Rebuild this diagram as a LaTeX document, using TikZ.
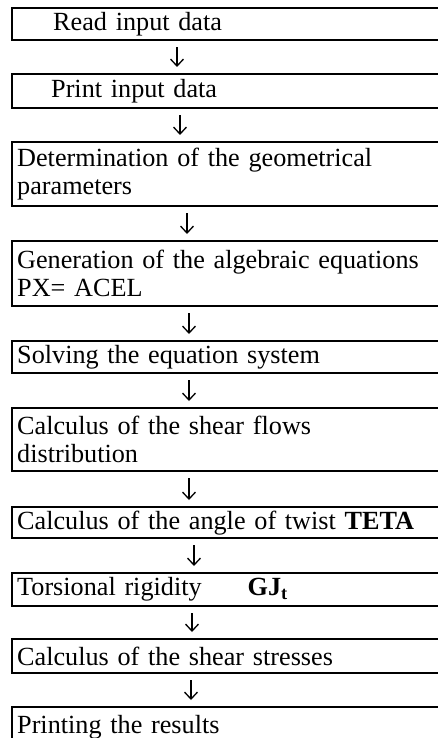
\documentclass[tikz,border=0pt]{standalone}
\usepackage{fontspec}
\setmainfont{Liberation Serif}
\usetikzlibrary{arrows.meta,positioning}

\begin{document}
\begin{tikzpicture}[
  x=1pt,y=1pt,
  every node/.style={font=\fontsize{26.2}{28}\selectfont},
  stepbox/.style={draw,line width=2.4pt,anchor=north west,minimum width=480pt,
                  inner xsep=5pt,inner ysep=0pt,align=left,text width=470pt},
  arr/.style={-{Straight Barb[length=7pt,width=13pt]},line width=1.3pt,
              shorten <=6pt,shorten >=6pt},
]
\path[use as bounding box] (0,0) rectangle (438,-738);
\clip (0,0) rectangle (438,-738);

%% ── Input ────────────────────────────────────────────────────────────────
\node[stepbox,minimum height=32pt] (read) at (11,-7) {\hspace*{36pt}Read input data};
\node[stepbox,minimum height=34pt] (print) at (11,-73) {\hspace*{34pt}Print input data};

%% ── Geometry and equations ───────────────────────────────────────────────
\node[stepbox,minimum height=64pt] (geom) at (11,-141)
  {Determination of the geometrical\\parameters};
\node[stepbox,minimum height=65pt] (algeq) at (11,-240)
  {Generation of the algebraic equations\\PX= ACEL};
\node[stepbox,minimum height=32pt] (solve) at (11,-340) {Solving the equation system};

%% ── Results of the solution ──────────────────────────────────────────────
\node[stepbox,minimum height=63pt] (flows) at (11,-407)
  {Calculus of the shear flows\\distribution};
\node[stepbox,minimum height=31pt] (twist) at (11,-506)
  {Calculus of the angle of twist \textbf{TETA}};
\node[stepbox,minimum height=33pt] (rigid) at (11,-572)
  {Torsional rigidity\hspace{46pt}\textbf{GJ\textsubscript{t}}};
\node[stepbox,minimum height=34pt] (stress) at (11,-638) {Calculus of the shear stresses};

%% ── Output ───────────────────────────────────────────────────────────────
\node[stepbox,minimum height=40pt] (result) at (11,-706) {Printing the results};

%% ── Connections ──────────────────────────────────────────────────────────
\draw[arr] ([xshift=166pt]read.south west) -- ([xshift=166pt]print.north west);
\draw[arr] ([xshift=169pt]print.south west) -- ([xshift=169pt]geom.north west);
\draw[arr] ([xshift=176pt]geom.south west) -- ([xshift=176pt]algeq.north west);
\draw[arr] ([xshift=178pt]algeq.south west) -- ([xshift=178pt]solve.north west);
\draw[arr] ([xshift=178pt]solve.south west) -- ([xshift=178pt]flows.north west);
\draw[arr] ([xshift=178pt]flows.south west) -- ([xshift=178pt]twist.north west);
\draw[arr] ([xshift=183pt]twist.south west) -- ([xshift=183pt]rigid.north west);
\draw[arr] ([xshift=181pt]rigid.south west) -- ([xshift=181pt]stress.north west);
\draw[arr] ([xshift=180pt]stress.south west) -- ([xshift=180pt]result.north west);

\end{tikzpicture}
\end{document}
